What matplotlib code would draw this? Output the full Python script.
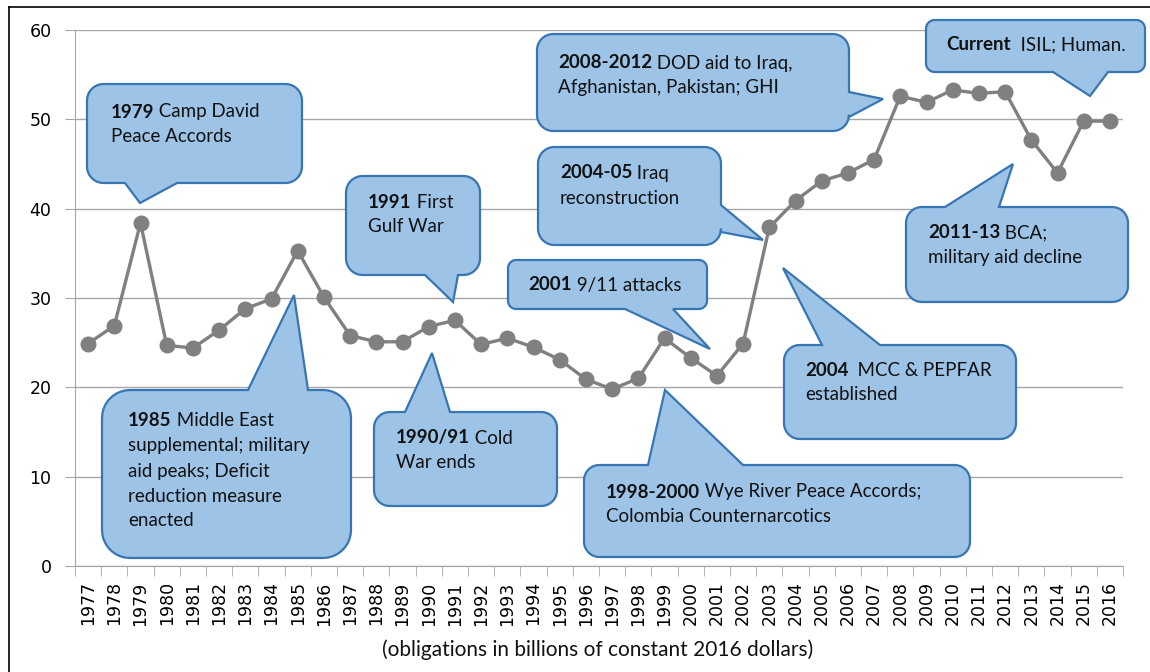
import numpy as np
import matplotlib.pyplot as plt
from matplotlib.patches import Polygon
from matplotlib.lines import Line2D
from matplotlib.text import Annotation
from matplotlib.transforms import Affine2D

# foreign aid obligations, billions of constant 2016 dollars
years = list(range(1977, 2017))
values = [24.9, 26.9, 38.4, 24.7, 24.4, 26.4, 28.8, 29.9, 35.3, 30.1,
          25.8, 25.1, 25.1, 26.8, 27.5, 24.8, 25.5, 24.5, 23.1, 20.9,
          19.8, 21.0, 25.5, 23.3, 21.3, 24.9, 37.9, 40.9, 43.1, 44.0,
          45.5, 52.6, 51.9, 53.3, 52.9, 53.1, 47.7, 44.0, 49.8, 49.8]
yticks = [0, 10, 20, 30, 40, 50, 60]
xlabel = "(obligations in billions of constant 2016 dollars)"

# callout texts: bold lead, rest of first line, further lines
note_bold = ["1979", "1985", "1991", "1990/91", "2001", "1998-2000",
             "2004-05", "2004", "2008-2012", "2011-13", "Current"]
note_lines = [
    [" Camp David", "Peace Accords"],
    [" Middle East", "supplemental; military", "aid peaks; Deficit",
     "reduction measure", "enacted"],
    [" First", "Gulf War"],
    [" Cold", "War ends"],
    [" 9/11 attacks"],
    [" Wye River Peace Accords;", "Colombia Counternarcotics"],
    [" Iraq", "reconstruction"],
    ["  MCC & PEPFAR", "established"],
    [" DOD aid to Iraq,", "Afghanistan, Pakistan; GHI"],
    [" BCA;", "military aid decline"],
    ["  ISIL; Human."],
]

# callout layout in image pixels (y down): box, tail side, tail base, tail tip, text start
layout = [
    ((87, 84, 302, 183), "bottom", (125, 177), (140, 203), (111, 112)),
    ((102, 390, 351, 558), "top", (248, 308), (294, 295), (128, 421)),
    ((346, 176, 480, 275), "bottom", (425, 458), (453, 302), (368, 202)),
    ((374, 412, 557, 506), "top", (405, 450), (432, 353), (396, 438)),
    ((508, 260, 707, 309), "bottom", (625, 673), (710, 349), (528, 285)),
    ((584, 465, 970, 557), "top", (648, 743), (665, 390), (606, 492)),
    ((538, 147, 721, 245), "right", (205, 232), (763, 240), (560, 173)),
    ((784, 345, 1016, 439), "top", (822, 880), (783, 268), (805, 370)),
    ((537, 34, 849, 131), "right", (92, 117), (883, 99), (558, 63)),
    ((906, 207, 1128, 302), "top", (945, 999), (1013, 164), (928, 233)),
    ((926, 20, 1145, 72), "bottom", (1053, 1108), (1090, 96), (946, 45)),
]

W, H = 1150, 672
FILL = '#9DC3E6'
EDGE = '#3776B3'
NOTE_FONT = ['Lato', 'DejaVu Sans']
NOTE_SIZE = 13.5


def arc(cx, cy, r, a0, a1, n=10):
    t = np.radians(np.linspace(a0, a1, n))
    return [(cx + r * np.cos(t_), cy + r * np.sin(t_)) for t_ in t]


def callout_path(box, side, base, tip):
    x0, y0, x1, y1 = box
    r = min(x1 - x0, y1 - y0) / 6
    pts = [(x0 + r, y0)]
    if side == "top":
        pts += [(base[0], y0), tip, (base[1], y0)]
    pts += arc(x1 - r, y0 + r, r, 270, 360)
    if side == "right":
        pts += [(x1, base[0]), tip, (x1, base[1])]
    pts += arc(x1 - r, y1 - r, r, 0, 90)
    if side == "bottom":
        pts += [(base[1], y1), tip, (base[0], y1)]
    pts += arc(x0 + r, y1 - r, r, 90, 180)
    pts += arc(x0 + r, y0 + r, r, 180, 270)
    return pts


fig = plt.figure(figsize=(W / 100, H / 100), dpi=100)
px = Affine2D().scale(1 / W, -1 / H).translate(0, 1) + fig.transFigure

ax = fig.add_axes([75 / W, 1 - 566 / H, (1123 - 75) / W, (566 - 30) / H])
x = np.arange(len(years))
ax.plot(x, values, color='#808080', lw=2.4, marker='o', ms=10.5, zorder=3)

ax.set_xlim(-0.5, len(years) - 0.5)
ax.set_ylim(0, 60)
ax.set_yticks(yticks)
ax.set_xticks(x)
ax.set_xticklabels([str(y) for y in years], rotation=90)
ax.set_xticks(np.arange(-0.5, len(years), 1), minor=True)
ax.tick_params(axis='x', which='major', length=0, pad=11, labelsize=12.5)
ax.tick_params(axis='x', which='minor', length=7, color='#A6A6A6')
ax.tick_params(axis='y', length=7, color='#A6A6A6', pad=10, labelsize=12.5)
ax.yaxis.grid(True, color='#A6A6A6', lw=1)
ax.set_axisbelow(True)
for s in ['top', 'right']:
    ax.spines[s].set_visible(False)
for s in ['left', 'bottom']:
    ax.spines[s].set_color('#A6A6A6')

# outer frame (left and top edges)
fig.add_artist(Line2D([9, 9], [7, H], transform=px, color='black', lw=1.2))
fig.add_artist(Line2D([9, W], [7, 7], transform=px, color='black', lw=1.2))

for bold, lines, (box, side, base, tip, (tx, ty)) in zip(note_bold, note_lines, layout):
    poly = Polygon(callout_path(box, side, base, tip), closed=True, transform=px,
                   facecolor=FILL, edgecolor=EDGE, lw=1.6, zorder=5)
    fig.add_artist(poly)
    b = fig.text(tx, ty, bold, transform=px, fontweight='bold', family=NOTE_FONT,
                 fontsize=NOTE_SIZE, va='center', ha='left', color='#111111', zorder=6)
    rest = Annotation(lines[0], xy=(1, 0), xycoords=b, va='bottom', ha='left',
                      family=NOTE_FONT, fontsize=NOTE_SIZE, color='#111111',
                      annotation_clip=False)
    rest.set_zorder(6)
    fig.add_artist(rest)
    for i, line in enumerate(lines[1:], start=1):
        fig.text(tx, ty + 25 * i, line, transform=px, family=NOTE_FONT,
                 fontsize=NOTE_SIZE, va='center', ha='left', color='#111111', zorder=6)

fig.text(598, 650, xlabel, transform=px, family=NOTE_FONT, fontsize=15,
         ha='center', va='center', color='#111111')

fig.savefig('out.png', dpi=100)
